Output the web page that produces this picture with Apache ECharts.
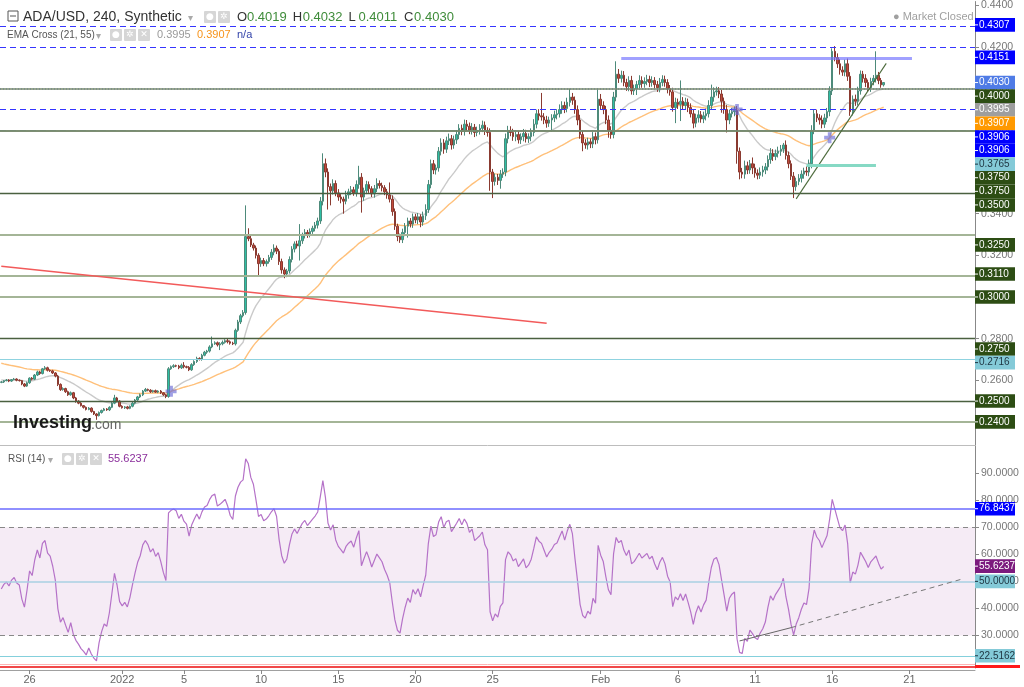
<!DOCTYPE html>
<html><head><meta charset="utf-8">
<script src="https://cdn.jsdelivr.net/npm/echarts@6/dist/echarts.min.js"></script>
<style>html,body{margin:0;padding:0;background:#fff;}#c{width:1024px;height:687px;}</style>
</head><body><div id="c"></div>
<script>
// ---- DATA (4h candles, ADA/USD) ----
const closePrices = [
0.2592,0.2598,0.2601,0.2596,0.2603,0.2606,0.2600,0.2598,0.2582,0.2572,
0.2588,0.2610,0.2605,0.2625,0.2640,0.2632,0.2655,0.2660,0.2648,0.2645,
0.2635,0.2620,0.2580,0.2555,0.2560,0.2545,0.2530,0.2540,0.2515,0.2500,
0.2490,0.2478,0.2470,0.2460,0.2466,0.2450,0.2438,0.2430,0.2445,0.2455,
0.2462,0.2458,0.2470,0.2490,0.2515,0.2500,0.2475,0.2468,0.2472,0.2465,
0.2475,0.2490,0.2505,0.2520,0.2530,0.2548,0.2556,0.2552,0.2545,0.2550,
0.2543,0.2548,0.2540,0.2530,0.2522,0.2655,0.2665,0.2670,0.2668,0.2660,
0.2672,0.2665,0.2662,0.2650,0.2675,0.2690,0.2705,0.2700,0.2720,0.2735,
0.2740,0.2760,0.2775,0.2780,0.2770,0.2775,0.2782,0.2790,0.2785,0.2778,
0.2775,0.2840,0.2880,0.2910,0.2925,0.3290,0.3280,0.3250,0.3235,0.3200,
0.3160,0.3175,0.3160,0.3170,0.3190,0.3215,0.3235,0.3220,0.3170,0.3130,
0.3110,0.3125,0.3180,0.3230,0.3255,0.3245,0.3270,0.3295,0.3310,0.3300,
0.3315,0.3330,0.3345,0.3365,0.3460,0.3640,0.3600,0.3530,0.3510,0.3545,
0.3500,0.3480,0.3470,0.3460,0.3490,0.3505,0.3515,0.3500,0.3540,0.3575,
0.3480,0.3510,0.3540,0.3520,0.3495,0.3520,0.3545,0.3535,0.3525,0.3505,
0.3490,0.3470,0.3410,0.3340,0.3290,0.3275,0.3310,0.3340,0.3365,0.3350,
0.3385,0.3370,0.3385,0.3360,0.3390,0.3420,0.3540,0.3640,0.3610,0.3620,
0.3700,0.3740,0.3710,0.3750,0.3760,0.3730,0.3755,0.3780,0.3810,0.3795,
0.3830,0.3820,0.3800,0.3815,0.3790,0.3800,0.3810,0.3825,0.3800,0.3790,
0.3600,0.3555,0.3575,0.3560,0.3590,0.3600,0.3760,0.3800,0.3790,0.3770,
0.3780,0.3755,0.3770,0.3785,0.3760,0.3770,0.3790,0.3830,0.3880,0.3870,
0.3865,0.3850,0.3835,0.3850,0.3860,0.3875,0.3880,0.3900,0.3920,0.3905,
0.3935,0.3960,0.3945,0.3900,0.3850,0.3780,0.3740,0.3730,0.3745,0.3735,
0.3770,0.3755,0.3950,0.3920,0.3900,0.3850,0.3800,0.3780,0.3960,0.4070,
0.4050,0.4065,0.4030,0.4010,0.4040,0.3990,0.4000,0.4020,0.4040,0.4025,
0.4035,0.4045,0.4030,0.4040,0.4020,0.4005,0.4030,0.4045,0.4030,0.4000,
0.3985,0.3910,0.3935,0.3925,0.3940,0.3920,0.3935,0.3910,0.3880,0.3835,
0.3860,0.3875,0.3855,0.3870,0.3880,0.3920,0.3960,0.3985,0.3990,0.3975,
0.3940,0.3900,0.3850,0.3880,0.3890,0.3895,0.3700,0.3600,0.3590,0.3630,
0.3610,0.3640,0.3620,0.3595,0.3585,0.3600,0.3610,0.3625,0.3660,0.3690,
0.3675,0.3690,0.3700,0.3710,0.3730,0.3680,0.3640,0.3580,0.3530,0.3555,
0.3570,0.3590,0.3605,0.3600,0.3640,0.3800,0.3880,0.3860,0.3850,0.3830,
0.3860,0.3890,0.3990,0.4180,0.4150,0.4120,0.4090,0.4080,0.4120,0.4060,
0.3890,0.3950,0.3940,0.3990,0.4070,0.4050,0.4030,0.4005,0.4035,0.4050,
0.4065,0.4040,0.4019,0.4030];
// wick lengths above / below the body, in 0.0001 units
const upperWick = [
4,3,5,4,3,5,3,4,3,5, 6,4,5,5,6,5,4,8,5,4, 5,4,6,5,6,4,5,6,4,5, 4,5,3,4,5,4,3,4,5,4,
5,4,5,6,15,5,4,5,4,5, 4,6,5,5,6,5,7,4,5,4, 5,4,5,3,4,8,6,7,5,6, 8,15,5,6,7,6,8,5,7,6,
6,8,35,7,6,8,9,7,8,6, 7,8,10,9,12,150,40,15,10,12, 10,14,12,10,12,15,18,12,10,14,
12,10,15,14,12,15,80,14,16,12, 14,12,15,16,20,50,25,18,15,20, 15,18,14,12,20,15,18,14,20,55,
20,15,18,15,12,18,25,15,14,12, 14,60,18,15,12,14,18,15,16,14, 16,14,18,12,20,25,22,20,18,16,
20,22,18,20,25,18,20,22,20,18, 22,20,18,20,16,18,20,22,18,15, 20,15,18,16,20,18,25,22,20,18,
20,18,16,22,18,16,20,24,20,22, 110,18,20,16,18,20,22,25,20,18, 22,40,20,18,20,25,22,18,20,16,
22,20,50,25,20,18,22,20,25,62, 25,22,20,18,20,22,20,18,25,20, 20,22,18,20,16,18,22,20,18,16,
18,20,22,18,100,20,22,18,20,22, 20,22,18,20,25,25,60,22,20,18, 20,18,22,20,18,20,22,18,20,25,
20,18,30,20,18,22,20,18,20,25, 20,18,22,20,10,22,18,16,20,18, 20,18,16,22,20,25,22,20,18,22,
20,18,22,14,25,20,22,18,20,25, 20,18,22,20,18,16,20,14,18,16, 115,16,12,2];
const lowerWick = [
4,5,3,5,4,3,5,4,6,5, 4,5,6,4,5,6,4,5,6,5, 5,6,8,6,5,6,5,4,6,8, 5,4,6,5,4,6,5,20,4,5,
4,5,6,4,5,6,5,4,6,5, 4,5,6,4,5,6,4,5,6,5, 4,5,6,5,8,6,5,6,5,7, 6,8,5,6,5,6,7,5,6,5,
8,7,6,5,8,25,7,6,8,7, 6,8,7,10,8,10,12,10,12,15, 60,15,12,14,10,12,15,14,16,18,
20,15,12,14,16,12,70,15,14,16, 14,12,15,16,14,20,25,110,70,18, 16,18,20,60,15,18,16,14,18,20,
75,18,16,20,15,18,16,14,18,16, 18,16,20,18,22,15,16,18,55,16, 18,16,20,25,18,20,16,18,20,22,
18,20,22,18,20,22,18,20,22,18, 20,22,18,20,22,18,20,18,22,20, 90,80,20,22,40,18,20,22,18,20,
22,18,20,22,18,20,22,18,20,22, 18,20,22,18,55,20,22,18,20,22, 18,20,22,20,25,20,40,18,22,20,
20,22,18,20,22,20,35,20,18,20, 22,20,18,20,22,18,20,30,18,20, 20,18,22,20,18,20,22,18,20,22,
18,20,75,22,80,18,20,22,18,25, 20,22,18,20,22,18,20,22,18,20, 55,20,60,20,18,22,60,35,20,22,
20,18,30,22,20,18,22,20,18,20, 22,18,20,22,18,20,22,18,55,20, 18,20,22,18,20,22,18,20,22,20,
18,20,22,20,18,20,22,18,20,22, 20,18,22,20,18,20,22,18,20,18, 20,18,14,8];
const firstOpen = 0.2590;
const ema21Seed = 0.2602, ema55Seed = 0.2685;
const rsiSeedGain = 0.0007, rsiSeedLoss = 0.0008;

const xTickDates  = ['2021-12-26','2022-01-01','2022-01-05','2022-01-10','2022-01-15','2022-01-20','2022-01-25','2022-02-01','2022-02-06','2022-02-11','2022-02-16','2022-02-21'];
const xTickLabels = ['26','2022','5','10','15','20','25','Feb','6','11','16','21'];
const priceTickValues = [0.26,0.28,0.30,0.32,0.34,0.36,0.38,0.40,0.42,0.44];
const rsiTickValues = [30,40,50,60,70,80,90];

const levelValues = [0.4307,0.4151,0.4030,0.4000,0.3906,0.3826,0.3765,0.3750,0.3750,0.3500,0.3250,0.3110,0.3000,0.2750,0.2716,0.2500,0.2400];
const levelLabels = ['0.4307','0.4151','0.4030','0.4000','0.3906','0.3906','0.3765','0.3750','0.3750','0.3500','0.3250','0.3110','0.3000','0.2750','0.2716','0.2500','0.2400'];
const levelKinds  = ['blue','blue','last','olive','blue','blue','cyan','olive','olive','dark','sage','sage','sage','dark','cyanSolid','dark','sage'];
const emaTagValues = [0.3995, 0.3907];
const emaTagLabels = ['0.3995','0.3907'];

const redTrend    = [[0,0.3148],[212,0.2874]];
const greenTrend  = [[309,0.3471],[344,0.4122]];
const blueSegment = [[241,0.4145],[354,0.4145]];
const tealSegment = [[313,0.3634],[340,0.3634]];

const rsiLevelValues = [76.8437, 50, 22.5162];
const rsiLevelLabels = ['76.8437','50.0000','22.5162'];
const rsiLastValue = 55.6237, rsiLastLabel = '55.6237';
const rsiTrendSolid  = [[287,28.0],[307,32.9]];
const rsiTrendDashed = [[307,32.9],[374,51.0]];

const headerOHLC = [['O','0.4019'],['H','0.4032'],['L','0.4011'],['C','0.4030']];

// ---- BUILD ----
const FONT = 'Liberation Sans, Arial, sans-serif';
const N_SLOTS = 379, slotMs = 4*3600*1000, startMs = Date.UTC(2021,11,24,4,0,0);
const pad = n => String(n).padStart(2,'0');
const categories = [];
for (let k=0;k<N_SLOTS;k++){const d=new Date(startMs+k*slotMs);categories.push(d.getUTCFullYear()+'-'+pad(d.getUTCMonth()+1)+'-'+pad(d.getUTCDate())+' '+pad(d.getUTCHours())+':00');}
const tickMap = {}; xTickDates.forEach((d,j)=>{tickMap[d+' 00:00']=xTickLabels[j];});
const tickFn = (idx,val) => tickMap[val] !== undefined;

const ohlc = closePrices.map((c,i)=>{const o=i===0?firstOpen:closePrices[i-1];return [o,c,Math.min(o,c)-lowerWick[i]/10000,Math.max(o,c)+upperWick[i]/10000];});
function ema(seed,p){const k=2/(p+1);let e=seed;return closePrices.map(c=>(e=e+k*(c-e)));}
const ema21 = ema(ema21Seed,21), ema55 = ema(ema55Seed,55);
let ag=rsiSeedGain, al=rsiSeedLoss, prev=firstOpen;
const rsi = closePrices.map(c=>{const d=c-prev;prev=c;ag=(ag*13+Math.max(d,0))/14;al=(al*13+Math.max(-d,0))/14;return 100-100/(1+ag/al);});
const crosses=[];
for(let i=1;i<ema21.length;i++){const a=ema21[i-1]-ema55[i-1],b=ema21[i]-ema55[i];if((a<0)!==(b<0))crosses.push([i,(ema21[i]+ema55[i])/2]);}

const kinds = {
  blue:{line:{color:'#3535ff',type:[6,4],width:1.2},bg:'#0000ff',fg:'#ffffff'},
  last:{line:{color:'#7f8ff0',type:[1,2],width:1.5},bg:'#4f7be6',fg:'#ffffff'},
  olive:{line:{color:'#75876a',type:'solid',width:1.6},bg:'#2d4d14',fg:'#ffffff'},
  cyan:{line:{color:'#86cfdc',type:[6,4],width:1.2},bg:'#84cad8',fg:'#1d3440'},
  dark:{line:{color:'#4a6040',type:'solid',width:1.3},bg:'#2d4d14',fg:'#ffffff'},
  sage:{line:{color:'#a4b597',type:'solid',width:2},bg:'#2d4d14',fg:'#ffffff'},
  cyanSolid:{line:{color:'#8fd3e0',type:'solid',width:1.2},bg:'#84cad8',fg:'#1d3440'}
};
const seg = (pts,style) => [{coord:pts[0],lineStyle:style},{coord:pts[1]}];
const priceMarkLines = levelValues.map((v,i)=>({yAxis:v,lineStyle:kinds[levelKinds[i]].line}));
priceMarkLines.push(seg(redTrend,{color:'#f25a5a',width:1.5,type:'solid'}));
priceMarkLines.push(seg(greenTrend,{color:'#4d6b3c',width:1.1,type:'solid'}));
priceMarkLines.push(seg(blueSegment,{color:'rgba(110,110,255,0.65)',width:3,type:'solid'}));
priceMarkLines.push(seg(tealSegment,{color:'#86d9c4',width:3,type:'solid'}));

const chart = echarts.init(document.getElementById('c'));
const axisLbl = {color:'#777',fontSize:10.5,fontFamily:FONT,margin:6};
chart.setOption({
  animation:false, backgroundColor:'#ffffff',
  grid:[{left:0,right:49,top:0,height:445},{left:0,right:49,top:446,height:222}],
  xAxis:[
    {type:'category',gridIndex:0,data:categories,axisLine:{show:false},axisTick:{show:false},axisLabel:{show:false},splitLine:{show:false}},
    {type:'category',gridIndex:1,data:categories,offset:2,axisLine:{lineStyle:{color:'#a0a0a0'}},
     axisTick:{show:true,interval:tickFn,alignWithLabel:true,length:4,lineStyle:{color:'#888'}},
     axisLabel:{interval:tickFn,formatter:v=>tickMap[v]||'',color:'#666',fontSize:11,fontFamily:FONT,margin:4},splitLine:{show:false}}
  ],
  yAxis:[
    {type:'value',gridIndex:0,position:'right',min:0.2289,max:0.4419,axisLine:{show:true,lineStyle:{color:'#888'}},
     axisTick:{show:true,customValues:priceTickValues,length:4,lineStyle:{color:'#888'}},
     axisLabel:Object.assign({customValues:priceTickValues,formatter:v=>v.toFixed(4)},axisLbl),splitLine:{show:false}},
    {type:'value',gridIndex:1,position:'right',min:18,max:100,axisLine:{show:true,lineStyle:{color:'#888'}},
     axisTick:{show:true,customValues:rsiTickValues,length:4,lineStyle:{color:'#888'}},
     axisLabel:Object.assign({customValues:rsiTickValues,formatter:v=>v.toFixed(4)},axisLbl),splitLine:{show:false}}
  ],
  series:[
    {type:'candlestick',name:'ADA/USD',xAxisIndex:0,yAxisIndex:0,data:ohlc,barWidth:2,
     itemStyle:{color:'#2ebfa5',color0:'#c24a3c',borderColor:'#4d8a7a',borderColor0:'#8a3a30',borderWidth:1},
     markLine:{silent:true,symbol:['none','none'],label:{show:false},data:priceMarkLines},z:3},
    {type:'line',name:'EMA21',xAxisIndex:0,yAxisIndex:0,data:ema21,showSymbol:false,lineStyle:{color:'#cacaca',width:1.4},z:2},
    {type:'line',name:'EMA55',xAxisIndex:0,yAxisIndex:0,data:ema55,showSymbol:false,lineStyle:{color:'#ffc07a',width:1.4},z:2},
    {type:'scatter',name:'Cross',xAxisIndex:0,yAxisIndex:0,data:crosses,symbol:'path://M4,0H8V4H12V8H8V12H4V8H0V4H4Z',symbolSize:11,itemStyle:{color:'rgba(105,105,215,0.8)'},z:5},
    {type:'line',name:'RSI',xAxisIndex:1,yAxisIndex:1,data:rsi,showSymbol:false,lineStyle:{color:'#b572c8',width:1.2},
     markArea:{silent:true,itemStyle:{color:'rgba(160,70,160,0.11)'},data:[[{yAxis:30},{yAxis:70}]]},
     markLine:{silent:true,symbol:['none','none'],label:{show:false},data:[
       {yAxis:70,lineStyle:{color:'#888',type:[5,4],width:1}},
       {yAxis:30,lineStyle:{color:'#888',type:[5,4],width:1}},
       {yAxis:rsiLevelValues[0],lineStyle:{color:'#6b6bff',type:'solid',width:1.5}},
       {yAxis:rsiLevelValues[1],lineStyle:{color:'#a9d0e2',type:'solid',width:1.5}},
       {yAxis:rsiLevelValues[2],lineStyle:{color:'#84d0dc',type:'solid',width:1.2}},
       {yAxis:19.4,lineStyle:{color:'#ffb3b3',type:'solid',width:1}},
       {yAxis:18.6,lineStyle:{color:'#f04848',type:'solid',width:2}},
       seg(rsiTrendSolid,{color:'#666',width:1,type:'solid'}),
       seg(rsiTrendDashed,{color:'#777',width:1,type:[5,4]})
     ]}}
  ]
});

// ---- axis tags (stacked like the original) & header texts ----
function tags(items, yAxisIndex){
  items.sort((a,b)=>b.v-a.v);
  let last=-1e9; const out=[];
  items.forEach(it=>{
    let y=chart.convertToPixel({yAxisIndex:yAxisIndex},it.v); y=Math.max(y,last+13.6); last=y;
    out.push({type:'rect',shape:{x:975,y:y-6.8,width:40,height:13.6},style:{fill:it.bg},z:100});
    out.push({type:'line',shape:{x1:975,y1:y,x2:978,y2:y},style:{stroke:it.fg,lineWidth:1},z:101});
    out.push({type:'text',x:979,y:y,style:{text:it.text,fill:it.fg,font:'10px '+FONT,align:'left',verticalAlign:'middle'},z:101});
  });
  return out;
}
const priceTags = levelValues.map((v,i)=>({v:v,text:levelLabels[i],bg:kinds[levelKinds[i]].bg,fg:kinds[levelKinds[i]].fg}));
priceTags.push({v:emaTagValues[0],text:emaTagLabels[0],bg:'#9e9e9e',fg:'#fff'});
priceTags.push({v:emaTagValues[1],text:emaTagLabels[1],bg:'#ff9900',fg:'#fff'});
const rsiTags = [
  {v:rsiLevelValues[0],text:rsiLevelLabels[0],bg:'#0000ff',fg:'#fff'},
  {v:rsiLastValue,text:rsiLastLabel,bg:'#7c1a7e',fg:'#fff'},
  {v:rsiLevelValues[1],text:rsiLevelLabels[1],bg:'#84cad8',fg:'#1d3440'},
  {v:rsiLevelValues[2],text:rsiLevelLabels[2],bg:'#84cad8',fg:'#1d3440'}
];
const T = (x,y,text,fill,size,extra) => ({type:'text',x:x,y:y,z:110,style:Object.assign({text:text,fill:fill,font:(size||11)+'px '+FONT,align:'left',verticalAlign:'middle'},extra||{})});
const icon = (x,y,glyph) => [{type:'rect',shape:{x:x,y:y-6,width:12,height:12,r:1},style:{fill:'#d6d6d6'},z:110},
  {type:'text',x:x+6,y:y,z:111,style:{text:glyph,fill:'#fff',font:'bold 9px DejaVu Sans',align:'center',verticalAlign:'middle'}}];
let g = [];
g = g.concat(tags(priceTags,0), tags(rsiTags,1));
g.push({type:'rect',shape:{x:975,y:665,width:45,height:3},style:{fill:'#ff1a1a'},z:100});
g.push({type:'line',shape:{x1:0,y1:445.5,x2:975,y2:445.5},style:{stroke:'#bdbdbd',lineWidth:1},z:90});
// header row 1
g.push({type:'rect',shape:{x:8,y:11,width:10,height:10},style:{fill:'#fff',stroke:'#555',lineWidth:1},z:110});
g.push({type:'line',shape:{x1:10,y1:16,x2:16,y2:16},style:{stroke:'#555',lineWidth:1},z:111});
g.push(T(23,17,'ADA/USD, 240, Synthetic','#333',14));
g.push(T(188,18,'▾','#aaa',10));
g = g.concat(icon(204,17,'●'), icon(218,17,'✲'));
headerOHLC.forEach((p,j)=>{const x=237+j*55.7;g.push(T(x,17,p[0],'#333',13));g.push(T(x+10,17,p[1],'#3f8c3a',13));});
g.push(T(893,17,'● Market Closed','#a0a0a0',11));
// header row 2
g.push(T(7,35,'EMA Cross (21, 55)','#555',10));
g.push(T(96,36,'▾','#aaa',10));
g = g.concat(icon(110,35,'●'), icon(124,35,'✲'), icon(138,35,'✕'));
g.push(T(157,35,emaTagLabels[0],'#9a9a9a',11));
g.push(T(197,35,emaTagLabels[1],'#f7931a',11));
g.push(T(237,35,'n/a','#3344aa',11));
// RSI header
g.push(T(8,459,'RSI (14)','#555',10));
g.push(T(48,460,'▾','#aaa',10));
g = g.concat(icon(62,459,'●'), icon(76,459,'✲'), icon(90,459,'✕'));
g.push(T(108,459,rsiLastLabel,'#8b2f9c',11));
// watermark
g.push(T(13,423,'Investing','#1a1a1a',18,{font:'bold 18px '+FONT}));
g.push(T(91,425,'.com','#666',14));
chart.setOption({graphic:{elements:g}});
</script></body></html>
